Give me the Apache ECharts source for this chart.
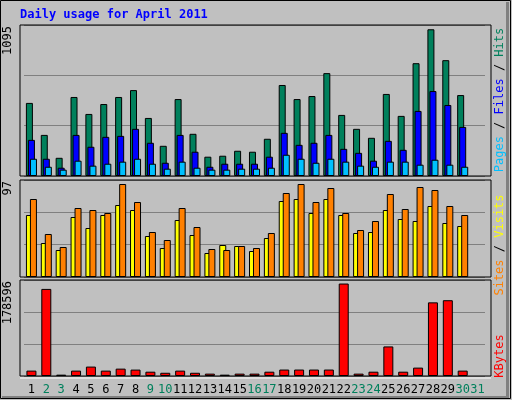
<!DOCTYPE html><html><head><meta charset="utf-8">
<script src="https://cdn.jsdelivr.net/npm/echarts@6/dist/echarts.min.js"></script>
<style>html,body{margin:0;padding:0;background:#c0c0c0}#c{width:512px;height:400px}</style></head><body><div id="c"></div>
<script>
const days=Array.from({length:31},(_,i)=>String(i+1));
const weekend=[2,3,9,10,16,17,23,24,30,31];
const hits=[530,298,132,573,450,522,573,623,421,219,558,306,140,147,183,176,270,660,558,580,746,443,342,277,595,436,818,1064,840,587,null];
const files=[262,125,60,298,212,284,291,342,241,96,298,176,67,89,89,89,140,313,226,241,298,197,168,111,255,190,472,616,515,356,null];
const pages=[125,67,46,111,75,89,104,125,89,53,104,60,46,46,53,53,60,154,125,96,125,104,75,67,104,104,82,118,82,67,null];
const visits=[62,34,27,60,49,62,72,67,41,29,57,42,24,32,31,26,39,76,78,64,78,62,44,45,67,58,56,71,54,51,null];
const sites=[78,43,30,69,67,64,93,75,45,37,69,50,28,27,31,29,44,84,93,75,89,64,47,56,83,68,90,87,71,62,null];
const kbytes=[10000,162000,2500,10000,17500,10000,13700,11900,8000,6000,10000,6000,4400,2500,4400,4400,8000,12000,12000,12000,12000,172000,4400,8000,55000,8000,15600,137000,141000,10000,null];
const maxTop=1095,maxMid=97,maxBot=178596;
const F='DejaVu Sans Mono';
const ch=echarts.init(document.getElementById('c'));
const grids=[{top:25,height:151},{top:180,height:97},{top:280,height:96}];
const maxes=[maxTop,maxMid,maxBot];
const bs={borderColor:'#000',borderWidth:1};
function frame(g){return {type:'rect',shape:{x:20,y:g.top,width:471,height:g.height},style:{fill:'none',stroke:'#000',lineWidth:1},z:100};}
function vtext(txt,x,y,rich){return {type:'text',x:x,y:y,rotation:Math.PI/2,style:{text:txt,font:'12px '+F,fill:'#000',align:'right',verticalAlign:'middle',rich:rich},z:100};}
ch.setOption({
  animation:false,
  grid:grids.map(g=>({left:24,width:461,top:g.top,height:g.height})),
  xAxis:grids.map((g,i)=>({type:'category',gridIndex:i,data:days,axisLine:{show:false},axisTick:{show:false},
    axisLabel:{show:i===2,interval:0,margin:8,fontFamily:F,fontSize:12,
      formatter:v=>weekend.includes(+v)?'{g|'+v+'}':'{b|'+v+'}',rich:{g:{color:'#00805c',fontFamily:F,fontSize:12},b:{color:'#000',fontFamily:F,fontSize:12}}}})),
  yAxis:grids.map((g,i)=>({type:'value',gridIndex:i,min:0,max:maxes[i],interval:maxes[i]/3,axisLabel:{show:false},axisLine:{show:false},axisTick:{show:false},splitLine:{lineStyle:{color:'#808080',width:1}}})),
  series:[
    {type:'bar',xAxisIndex:0,yAxisIndex:0,data:hits,barWidth:7,barGap:'-71%',itemStyle:Object.assign({color:'#00805c'},bs)},
    {type:'bar',xAxisIndex:0,yAxisIndex:0,data:files,barWidth:7,barGap:'-71%',itemStyle:Object.assign({color:'#0000ff'},bs)},
    {type:'bar',xAxisIndex:0,yAxisIndex:0,data:pages,barWidth:7,barGap:'-71%',itemStyle:Object.assign({color:'#00c0ff'},bs)},
    {type:'bar',xAxisIndex:1,yAxisIndex:1,data:visits,barWidth:7,barGap:'-43%',itemStyle:Object.assign({color:'#ffff00'},bs)},
    {type:'bar',xAxisIndex:1,yAxisIndex:1,data:sites,barWidth:7,barGap:'-43%',itemStyle:Object.assign({color:'#ff8000'},bs)},
    {type:'bar',xAxisIndex:2,yAxisIndex:2,data:kbytes,barWidth:10,itemStyle:Object.assign({color:'#ff0000'},bs)}
  ],
  graphic:[
    {type:'rect',shape:{x:0.5,y:0.5,width:510,height:398},style:{fill:'none',stroke:'#000',lineWidth:1}},
    {type:'rect',shape:{x:2,y:396,width:506,height:2},style:{fill:'#808080'}},
    {type:'rect',shape:{x:506,y:2,width:3,height:396},style:{fill:'#808080'}},
    {type:'text',x:20,y:15,style:{text:'Daily usage for April 2011',font:'bold 12px '+F,fill:'#0000ff',verticalAlign:'middle'}},
    frame(grids[0]),frame(grids[1]),frame(grids[2]),
    {type:'line',shape:{x1:20,y1:378,x2:491,y2:378},style:{stroke:'#fff',lineWidth:1}},
    vtext('1095',8,26),vtext('97',8,181),vtext('178596',8,281),
    {type:'text',x:500,y:100,rotation:Math.PI/2,style:{text:'{p|Pages} / {f|Files} / {h|Hits}',font:'12px '+F,fill:'#000',align:'center',verticalAlign:'middle',
      rich:{p:{fill:'#00c0ff',font:'12px '+F},f:{fill:'#0000ff',font:'12px '+F},h:{fill:'#00805c',font:'12px '+F}}}},
    {type:'text',x:500,y:245,rotation:Math.PI/2,style:{text:'{s|Sites} / {v|Visits}',font:'12px '+F,fill:'#000',align:'center',verticalAlign:'middle',
      rich:{s:{fill:'#ff8000',font:'12px '+F},v:{fill:'#ffff00',font:'12px '+F}}}},
    {type:'text',x:500,y:356,rotation:Math.PI/2,style:{text:'KBytes',font:'12px '+F,fill:'#ff0000',align:'center',verticalAlign:'middle'}}
  ]
});
</script></body></html>
